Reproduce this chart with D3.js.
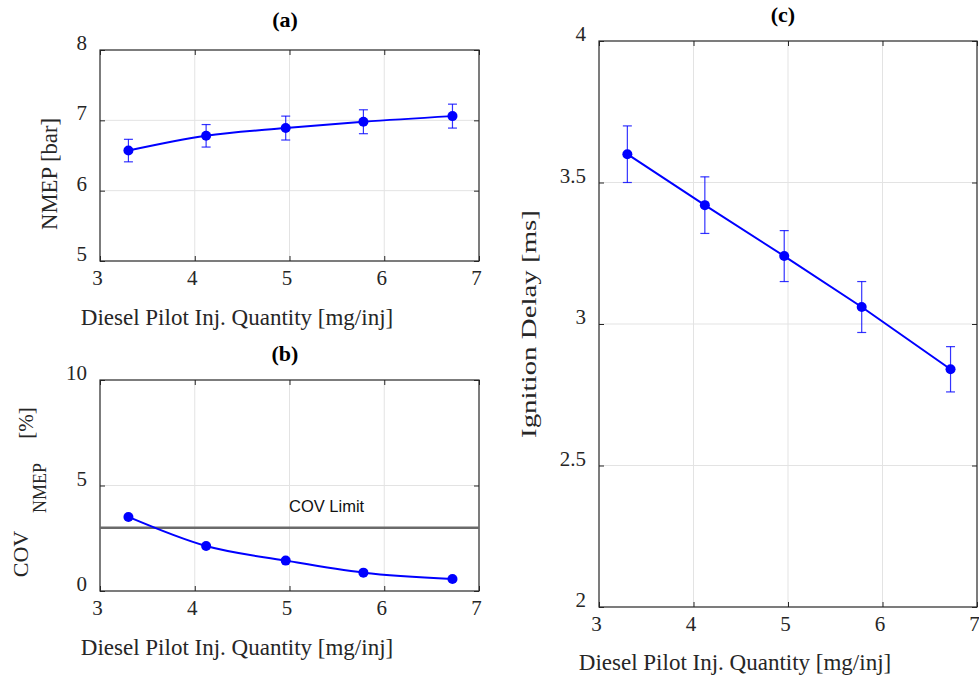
<!DOCTYPE html>
<html>
<head>
<meta charset="utf-8">
<script src="https://cdn.jsdelivr.net/npm/d3@7"></script>
<style>
  html, body { margin: 0; padding: 0; background: #fff; }
  svg { display: block; }
</style>
</head>
<body>
<svg id="fig" width="979" height="679"></svg>
<script>
// Diesel pilot injection quantity [mg/inj]
const pilotQty = [3.3, 4.12, 4.96, 5.78, 6.72];
// (a) net mean effective pressure [bar] and its spread
const nmep = [6.57, 6.78, 6.89, 6.98, 7.06];
const nmepErr = [0.16, 0.16, 0.17, 0.17, 0.17];
// (b) cycle-to-cycle variation of NMEP [%]
const covNmep = [3.51, 2.13, 1.44, 0.87, 0.57];
const covLimit = 3;
// (c) ignition delay [ms] and its spread
const ignDelay = [3.60, 3.42, 3.24, 3.06, 2.84];
const ignErr = [0.10, 0.10, 0.09, 0.09, 0.08];

const xTicks = [3, 4, 5, 6, 7];
const yTicksA = [5, 6, 7, 8];
const yTicksB = [0, 5, 10];
const yTicksC = [2, 2.5, 3, 3.5, 4];

const svg = d3.select("#fig");
const SERIF = "'Liberation Serif', 'Times New Roman', serif";
const AXIS_COL = "#262626";
const GRID_COL = "#e3e3e3";
const BLUE = "#0000ff";

function panel(o) {
  const x = d3.scaleLinear().domain([3, 7]).range([o.x0, o.x1]);
  const y = d3.scaleLinear().domain(o.yDomain).range([o.y1, o.y0]);
  const g = svg.append("g");

  // grid
  g.append("g").selectAll("line").data(xTicks.slice(1, -1)).join("line")
    .attr("x1", d => x(d)).attr("x2", d => x(d))
    .attr("y1", o.y0).attr("y2", o.y1)
    .attr("stroke", GRID_COL).attr("stroke-width", 1);
  g.append("g").selectAll("line").data(o.yTicks.slice(1, -1)).join("line")
    .attr("y1", d => y(d)).attr("y2", d => y(d))
    .attr("x1", o.x0).attr("x2", o.x1)
    .attr("stroke", GRID_COL).attr("stroke-width", 1);

  // inward ticks on all four sides
  const tl = 5;
  g.append("g").attr("transform", `translate(0,${o.y1})`)
    .call(d3.axisBottom(x).tickValues(xTicks).tickSize(-tl).tickFormat(""))
    .call(s => s.select(".domain").remove());
  g.append("g").attr("transform", `translate(0,${o.y0})`)
    .call(d3.axisTop(x).tickValues(xTicks).tickSize(-tl).tickFormat(""))
    .call(s => s.select(".domain").remove());
  g.append("g").attr("transform", `translate(${o.x0},0)`)
    .call(d3.axisLeft(y).tickValues(o.yTicks).tickSize(-tl).tickFormat(""))
    .call(s => s.select(".domain").remove());
  g.append("g").attr("transform", `translate(${o.x1},0)`)
    .call(d3.axisRight(y).tickValues(o.yTicks).tickSize(-tl).tickFormat(""))
    .call(s => s.select(".domain").remove());
  g.selectAll(".tick line").attr("stroke", AXIS_COL).attr("stroke-width", 1);

  // box
  g.append("rect").attr("x", o.x0).attr("y", o.y0)
    .attr("width", o.x1 - o.x0).attr("height", o.y1 - o.y0)
    .attr("fill", "none").attr("stroke", AXIS_COL).attr("stroke-width", 1.2);

  // tick labels
  g.append("g").selectAll("text").data(xTicks).join("text")
    .attr("x", d => x(d) - 2.5).attr("y", o.y1 + 24)
    .attr("text-anchor", "middle")
    .attr("font-family", SERIF).attr("font-size", 21).attr("fill", AXIS_COL)
    .text(d => d);
  g.append("g").selectAll("text").data(o.yTicks).join("text")
    .attr("x", o.x0 - 13).attr("y", d => y(d))
    .attr("text-anchor", "end")
    .attr("font-family", SERIF).attr("font-size", 21).attr("fill", AXIS_COL)
    .text(d => d);

  // x label
  g.append("text").attr("x", o.xLabelX).attr("y", o.xLabelY)
    .attr("text-anchor", "middle")
    .attr("font-family", SERIF).attr("font-size", 23).attr("fill", AXIS_COL)
    .text("Diesel Pilot Inj. Quantity [mg/inj]");

  // title
  g.append("text").attr("x", o.titleX).attr("y", o.titleY)
    .attr("text-anchor", "middle")
    .attr("font-family", SERIF).attr("font-size", 22).attr("font-weight", "bold")
    .attr("fill", "#000")
    .text(o.title);

  return { g, x, y };
}

function yLabel(p, text, tx, ty, fs, len) {
  const t = p.g.append("text")
    .attr("transform", `translate(${tx},${ty}) rotate(-90)`)
    .attr("text-anchor", "middle")
    .attr("font-family", SERIF).attr("font-size", fs).attr("fill", AXIS_COL)
    .text(text);
  if (len) t.attr("textLength", len).attr("lengthAdjust", "spacingAndGlyphs");
}

function drawSeries(p, values, errs, curve) {
  const pts = pilotQty.map((q, i) => ({ q, v: values[i], e: errs ? errs[i] : 0 }));
  if (errs) {
    const eb = p.g.append("g").attr("stroke", BLUE).attr("stroke-opacity", 0.8).attr("stroke-width", 1.2);
    const cw = 4.5;
    pts.forEach(d => {
      const cx = p.x(d.q), yt = p.y(d.v + d.e), yb = p.y(d.v - d.e);
      eb.append("line").attr("x1", cx).attr("x2", cx).attr("y1", yt).attr("y2", yb);
      eb.append("line").attr("x1", cx - cw).attr("x2", cx + cw).attr("y1", yt).attr("y2", yt);
      eb.append("line").attr("x1", cx - cw).attr("x2", cx + cw).attr("y1", yb).attr("y2", yb);
    });
  }
  p.g.append("path").datum(pts)
    .attr("d", d3.line().x(d => p.x(d.q)).y(d => p.y(d.v)).curve(curve))
    .attr("fill", "none").attr("stroke", BLUE).attr("stroke-width", 2);
  p.g.append("g").selectAll("circle").data(pts).join("circle")
    .attr("cx", d => p.x(d.q)).attr("cy", d => p.y(d.v)).attr("r", 5)
    .attr("fill", BLUE);
}

// (a)
const pa = panel({
  x0: 100, x1: 479, y0: 50, y1: 261, yDomain: [5, 8], yTicks: yTicksA,
  xLabelX: 237, xLabelY: 325, titleX: 285, titleY: 27, title: "(a)"
});
yLabel(pa, "NMEP [bar]", 57, 174, 24, 112);
drawSeries(pa, nmep, nmepErr, d3.curveMonotoneX);

// (b)
const pb = panel({
  x0: 100, x1: 479, y0: 380, y1: 591, yDomain: [0, 10], yTicks: yTicksB,
  xLabelX: 237, xLabelY: 655, titleX: 285, titleY: 361, title: "(b)"
});
pb.g.append("line")
  .attr("x1", pb.x(3)).attr("x2", pb.x(7))
  .attr("y1", pb.y(covLimit)).attr("y2", pb.y(covLimit))
  .attr("stroke", "#6a6a6a").attr("stroke-width", 2.4);
pb.g.append("text").attr("x", 289).attr("y", 512)
  .attr("font-family", "'Liberation Sans', Arial, sans-serif").attr("font-size", 16.5)
  .attr("fill", "#111").text("COV Limit");
// y label: COV with NMEP subscript and unit
yLabel(pb, "COV", 28, 554, 22);
yLabel(pb, "NMEP", 46, 488, 18);
yLabel(pb, "[%]", 33, 423, 21);
drawSeries(pb, covNmep, null, d3.curveMonotoneX);

// (c)
const pc = panel({
  x0: 599, x1: 977, y0: 41, y1: 607, yDomain: [2, 4], yTicks: yTicksC,
  xLabelX: 735, xLabelY: 670, titleX: 783, titleY: 22, title: "(c)"
});
yLabel(pc, "Ignition Delay [ms]", 536, 324, 20, 228);
drawSeries(pc, ignDelay, ignErr, d3.curveLinear);
</script>
</body>
</html>
